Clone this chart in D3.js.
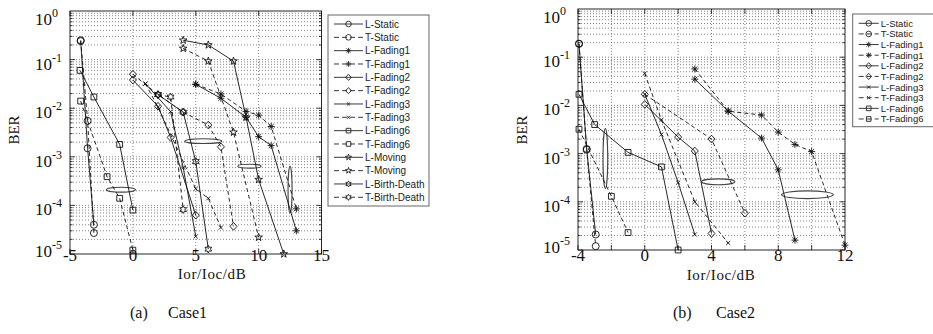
<!DOCTYPE html>
<html>
<head>
<meta charset="utf-8">
<script src="https://cdn.jsdelivr.net/npm/d3@7"></script>
<style>
  body { margin: 0; background: #fff; }
  svg text { font-family: "Liberation Serif", "Times New Roman", serif; fill: #111; }
  .leg text { font-family: "Liberation Sans", Arial, sans-serif; fill: #222; }
</style>
</head>
<body>
<svg id="fig" width="933" height="334"></svg>
<script>
// series names (legend order)
const names1 = ["L-Static", "T-Static", "L-Fading1", "T-Fading1", "L-Fading2", "T-Fading2",
  "L-Fading3", "T-Fading3", "L-Fading6", "T-Fading6", "L-Moving", "T-Moving",
  "L-Birth-Death", "T-Birth-Death"];
const names2 = names1.slice(0, 10);

// Case1: [Ior/Ioc dB, BER] per series, same order as names1
const values1 = [
  [[-4.15, 0.24], [-3.6, 1.5e-3], [-3.1, 4e-5]],
  [[-4.15, 0.25], [-3.6, 5.5e-3], [-3.1, 2.7e-5]],
  [[5, 0.031], [7, 0.016], [9, 0.0065], [10, 0.0026], [11, 0.0017], [13, 3e-5]],
  [[5, 0.031], [7, 0.0196], [9, 0.0086], [10, 0.0072], [11, 0.0042], [13, 8.5e-5]],
  [[0, 0.038], [2, 0.011], [3, 2.5e-3], [5, 6.3e-5]],
  [[0, 0.05], [2, 0.019], [4, 8.3e-3], [6, 4.5e-3], [7, 1.6e-3], [8, 3.7e-5]],
  [[1, 0.032], [3, 8.5e-3], [4, 6e-4], [5, 2.3e-5]],
  [[1, 0.032], [2, 0.0105], [5, 2.2e-4], [6, 1.4e-4], [7, 3.5e-5]],
  [[-4.2, 0.06], [-3.1, 0.017], [-1.05, 1.8e-3], [0, 8e-5]],
  [[-4.15, 0.014], [-2.05, 3.9e-4], [-1.05, 1.4e-4], [0, 1.2e-5]],
  [[4, 0.25], [6, 0.2], [8, 0.093], [9, 0.0065], [10, 3.4e-4], [12, 1e-5]],
  [[4, 0.17], [6, 0.093], [8, 3.2e-3], [10, 2.2e-5]],
  [[2, 0.019], [4, 8.3e-3], [5, 8e-4], [6, 1.26e-5]],
  [[2, 0.019], [3, 0.017], [4, 8.2e-5]]
];

// Case2
const values2 = [
  [[-3.94, 0.19], [-3.48, 1.25e-3], [-2.94, 2.1e-5]],
  [[-3.94, 0.19], [-3.48, 1.2e-3], [-2.94, 1.2e-5]],
  [[3, 0.035], [5, 7.6e-3], [7, 2.1e-3], [8, 4.6e-4], [9, 1.6e-5]],
  [[3, 0.057], [5, 7.6e-3], [7, 6.3e-3], [8, 2.8e-3], [9, 1.55e-3], [10, 1.1e-3], [12, 1.26e-5]],
  [[0, 0.0105], [2, 2.2e-3], [3, 1.13e-3], [4, 2.2e-5]],
  [[0, 0.017], [4, 2e-3], [6, 5.8e-5]],
  [[0, 0.017], [1, 2.5e-3], [2, 2.5e-4], [3, 2.1e-5]],
  [[0, 0.046], [1, 5e-3], [3, 1e-4], [5, 1.4e-5]],
  [[-3.94, 0.017], [-3, 4e-3], [-1, 1.06e-3], [1, 5.3e-4], [2, 1e-5]],
  [[-3.94, 3.2e-3], [-2, 1.3e-4], [-1, 2.3e-5]]
];

// grouping ovals: [centre dB, centre BER, half width dB, half height decades]
const ovals1 = [[-0.95, 2.1e-4, 1.15, 0.05], [5.6, 2.1e-3, 1.47, 0.05],
  [9.27, 6.4e-4, 0.93, 0.04], [12.5, 2.1e-4, 0.16, 0.48]];
const ovals2 = [[-2.36, 7.9e-4, 0.14, 0.62], [4.4, 2.6e-4, 1.0, 0.06], [9.75, 1.4e-4, 1.55, 0.08]];

const xTicks1 = [-5, 0, 5, 10, 15];
const xGrid1 = [-5, 0, 5, 10, 15];
const xTicks2 = [-4, 0, 4, 8, 12];
const xGrid2 = [-4, -2, 0, 2, 4, 6, 8, 10, 12];
const yTicks = [1, 1e-1, 1e-2, 1e-3, 1e-4, 1e-5];
const yExp = ["0", "-1", "-2", "-3", "-4", "-5"];

const svg = d3.select("#fig");

const markerOf = {
  "Static": "o", "Fading1": "*", "Fading2": "d", "Fading3": "x",
  "Fading6": "s", "Moving": "p", "Birth-Death": "h"
};

function star(n, R, r) {
  const p = [];
  for (let i = 0; i < 2 * n; i++) {
    const a = -Math.PI / 2 + i * Math.PI / n, rr = i % 2 ? r : R;
    p.push([(rr * Math.cos(a)).toFixed(2), (rr * Math.sin(a)).toFixed(2)]);
  }
  return "M" + p.join("L") + "Z";
}

function markerPath(k, s) {
  const r = 3.5 * s, a = r * 0.72;
  switch (k) {
    case "o": return `M${r},0A${r},${r} 0 1,1 ${-r},0A${r},${r} 0 1,1 ${r},0Z`;
    case "*": return `M0,${-r}V${r}M${-r},0H${r}M${-a},${-a}L${a},${a}M${-a},${a}L${a},${-a}`;
    case "d": return `M0,${-r * 1.1}L${r},0L0,${r * 1.1}L${-r},0Z`;
    case "x": return `M${-a * 0.8},${-a * 0.8}L${a * 0.8},${a * 0.8}M${-a * 0.8},${a * 0.8}L${a * 0.8},${-a * 0.8}`;
    case "s": return `M${-a * 1.15},${-a * 1.15}H${a * 1.15}V${a * 1.15}H${-a * 1.15}Z`;
    case "p": return star(5, r * 1.15, r * 0.45);
    case "h": return star(6, r * 1.1, r * 0.6);
  }
}

function drawPanel(p) {
  const g = svg.append("g");
  const x = d3.scaleLinear().domain(p.xDomain).range([p.left, p.right]);
  const y = d3.scaleLog().domain([1e-5, 1]).range([p.bottom, p.top]);

  // grid
  const grid = g.append("g").attr("stroke", "#666").attr("stroke-width", 0.8)
    .attr("stroke-dasharray", "1,2");
  p.xGrid.filter(v => v > p.xDomain[0] && v < p.xDomain[1]).forEach(v => {
    grid.append("line").attr("x1", x(v)).attr("x2", x(v)).attr("y1", p.top).attr("y2", p.bottom);
  });
  const minor = [];
  for (let e = -5; e < 0; e++) for (let k = 1; k <= 9; k++) minor.push(k * Math.pow(10, e));
  minor.filter(v => v > 1.0001e-5).forEach(v => {
    grid.append("line").attr("x1", p.left).attr("x2", p.right).attr("y1", y(v)).attr("y2", y(v));
  });

  // ticks and box
  const ax = g.append("g").attr("stroke", "#111").attr("stroke-width", 0.8);
  minor.forEach(v => {
    const major = Math.abs(Math.log10(v) - Math.round(Math.log10(v))) < 1e-6;
    const len = major ? 5 : 2.5;
    ax.append("line").attr("x1", p.left).attr("x2", p.left + len).attr("y1", y(v)).attr("y2", y(v));
    ax.append("line").attr("x1", p.right).attr("x2", p.right - len).attr("y1", y(v)).attr("y2", y(v));
  });
  p.xGrid.forEach(v => {
    ax.append("line").attr("x1", x(v)).attr("x2", x(v)).attr("y1", p.bottom).attr("y2", p.bottom - 5);
    ax.append("line").attr("x1", x(v)).attr("x2", x(v)).attr("y1", p.top).attr("y2", p.top + 5);
  });
  g.append("rect").attr("x", p.left).attr("y", p.top)
    .attr("width", p.right - p.left).attr("height", p.bottom - p.top)
    .attr("fill", "none").attr("stroke", "#111").attr("stroke-width", 0.9);

  // ovals
  p.ovals.forEach(o => {
    const e = Math.log10(o[1]);
    const ry = (y(Math.pow(10, e - o[3])) - y(Math.pow(10, e + o[3]))) / 2;
    g.append("ellipse").attr("cx", x(o[0])).attr("cy", y(o[1]))
      .attr("rx", x(o[0] + o[2]) - x(o[0])).attr("ry", ry)
      .attr("fill", "#fff").attr("fill-opacity", 0.85)
      .attr("stroke", "#444").attr("stroke-width", 1.1);
  });

  // series
  const line = d3.line().x(d => x(d[0])).y(d => y(d[1]));
  p.names.forEach((n, i) => {
    const dashed = n[0] === "T";
    g.append("path").datum(p.values[i]).attr("d", line)
      .attr("fill", "none").attr("stroke", "#111").attr("stroke-width", 0.9)
      .attr("stroke-dasharray", dashed ? "4,3" : null);
    const k = markerOf[n.slice(2)];
    g.selectAll(null).data(p.values[i]).enter().append("path")
      .attr("transform", d => `translate(${x(d[0])},${y(d[1])})`)
      .attr("d", markerPath(k, 1))
      .attr("fill", "none").attr("stroke", "#111").attr("stroke-width", 0.9);
  });

  // tick labels
  p.xTicks.forEach(v => {
    g.append("text").attr("x", x(v)).attr("y", 261).attr("text-anchor", "middle")
      .attr("font-size", 17).text(v < 0 ? "-" + Math.abs(v) : v);
  });
  yTicks.forEach((v, i) => {
    const by = Math.max(p.top + 14, Math.min(y(v) + 10, p.bottom + 3));
    const t = g.append("text").attr("x", p.labelX).attr("y", by).attr("font-size", 17);
    t.append("tspan").text("10");
    t.append("tspan").attr("dy", -8).attr("font-size", 12).text(yExp[i]);
  });
  g.append("text").attr("transform", `translate(${p.berX},130) rotate(-90)`)
    .attr("text-anchor", "middle").attr("font-size", 15).text("BER");
  g.append("text").attr("x", p.xLabel[0]).attr("y", p.xLabel[1]).attr("text-anchor", "middle")
    .attr("font-size", 15).attr("letter-spacing", 0.6).text("Ior/Ioc/dB");

  // legend
  const L = p.legend;
  const lg = svg.append("g").attr("class", "leg");
  lg.append("rect").attr("x", L.x).attr("y", L.y).attr("width", L.w).attr("height", L.h)
    .attr("fill", "#fff").attr("stroke", "#666").attr("stroke-width", 1);
  p.names.forEach((n, i) => {
    const cy = L.first + i * L.step;
    const dashed = n[0] === "T";
    lg.append("line").attr("x1", L.x + 6).attr("x2", L.x + 6 + L.len).attr("y1", cy).attr("y2", cy)
      .attr("stroke", "#222").attr("stroke-width", 0.9)
      .attr("stroke-dasharray", dashed ? "5,3" : null);
    lg.append("path").attr("transform", `translate(${L.x + 6 + L.len / 2},${cy})`)
      .attr("d", markerPath(markerOf[n.slice(2)], 0.8))
      .attr("fill", "none").attr("stroke", "#222").attr("stroke-width", 0.9);
    lg.append("text").attr("x", L.x + 8 + L.len).attr("y", cy).attr("dy", "0.36em")
      .attr("font-size", L.fs).text(n);
  });
}

drawPanel({
  xDomain: [-5, 15], left: 70, right: 321.5, top: 11, bottom: 254,
  xTicks: xTicks1, xGrid: xGrid1, names: names1, values: values1, ovals: ovals1,
  labelX: 35, berX: 18.5, xLabel: [212, 279],
  legend: { x: 328, y: 15, w: 101, h: 191, first: 24, step: 13.33, len: 29, fs: 10 }
});

drawPanel({
  xDomain: [-4, 12], left: 578, right: 845, top: 9, bottom: 250,
  xTicks: xTicks2, xGrid: xGrid2, names: names2, values: values2, ovals: ovals2,
  labelX: 543, berX: 527, xLabel: [721, 280],
  legend: { x: 852.7, y: 14, w: 100, h: 112.7, first: 23.3, step: 10.63, len: 20, fs: 9.5 }
});

// captions
[["(a)", 130, "Case1", 168], ["(b)", 673, "Case2", 716]].forEach(c => {
  svg.append("text").attr("x", c[1]).attr("y", 318).attr("font-size", 16).text(c[0]);
  svg.append("text").attr("x", c[3]).attr("y", 318).attr("font-size", 16).text(c[2]);
});
</script>
</body>
</html>
